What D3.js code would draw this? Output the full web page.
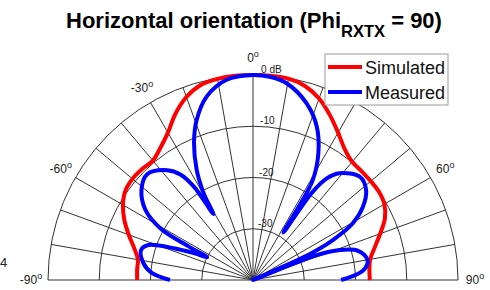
<!DOCTYPE html>
<html><head><meta charset="utf-8">
<script src="https://cdn.jsdelivr.net/npm/d3@7/dist/d3.min.js"></script>
<style>body{margin:0;background:#fff} svg{display:block}</style>
</head><body>
<svg id="chart" width="490" height="290"></svg>
<script>
// ---- data ----
const simAngles = [-90,-85,-80,-75,-70,-65,-60,-55,-50,-45,-40,-35,-30,-25,-20,-15,-10,-5,0,5,10,15,20,25,30,35,40,45,50,55,60,65,70,75,80,85,90];
const simDb = [-17.4,-17.3,-17.2,-16.0,-14.2,-12.3,-10.7,-9.6,-9.3,-9.4,-9.6,-8.5,-6.8,-4.2,-2.0,-0.6,-0.15,0,0,0,-0.1,-0.8,-2.3,-4.5,-6.8,-8.8,-9.9,-10.0,-10.0,-10.0,-10.4,-11.6,-13.6,-15.4,-16.8,-17.2,-17.2];
const measAngles = [-90,-86,-81,-75,-71.5,-68,-65.5,-63.5,-62.5,-61,-57,-51,-45,-38,-34.5,-32.3,-31,-29.6,-27.1,-23.3,-19.4,-14.2,-7.5,0,5,9.7,16.9,22.6,27.3,31,32.6,34,36,39,46,51.5,56.3,60.4,63.4,65.5,67,68.5,71,74.5,80,85,90];
const measDb = [-23.8,-20.2,-18.3,-17.4,-18.5,-23.6,-27.5,-30,-26,-19.5,-15,-12,-10.8,-12.8,-15,-18.5,-25,-20.5,-15.9,-10.9,-6.9,-3.1,-0.6,0,-0.25,-1.05,-4,-7.6,-12.2,-17.5,-29,-19.5,-15.5,-13.2,-11,-11.8,-14.2,-17.6,-22.5,-28,-42,-27,-22,-18.7,-17.3,-18.4,-22.8];
const ringDb = [0,-10,-20,-30];
const ringLabels = ["0 dB","-10","-20","-30"];
const spokeAngles = [-90,-80,-70,-60,-50,-40,-30,-20,-10,0,10,20,30,40,50,60,70,80,90];
// the 30° label sits under the legend in the reference, so it is not shown
const angleTicks = [-90,-60,-30,0,60,90];
const angleTickLabels = ["-90","-60","-30","0","60","90"];
const seriesNames = ["Simulated","Measured"];
const titleMain = "Horizontal orientation (Phi";
const titleSub = "RXTX";
const titleEnd = " = 90)";

// ---- layout ----
const svg = d3.select("#chart");
const cx = 253, cy = 280, R = 205;
const colors = ["#ff0000","#0000ff"];
const rScale = d3.scaleLinear().domain([-40,0]).range([0,R]).clamp(true);
const aScale = d3.scaleLinear().domain([-90,90]).range([-Math.PI/2, Math.PI/2]);

const g = svg.append("g").attr("transform", `translate(${cx},${cy})`);
const gridColor = "#333";

// rings
g.selectAll("path.ring").data(ringDb).join("path")
  .attr("class","ring")
  .attr("d", d => { const r = rScale(d); return `M${-r},0A${r},${r} 0 0 1 ${r},0`; })
  .attr("fill","none").attr("stroke",gridColor).attr("stroke-width",1);
// spokes
g.selectAll("line.spoke").data(spokeAngles).join("line")
  .attr("class","spoke")
  .attr("x1",0).attr("y1",0)
  .attr("x2", d => R*Math.sin(aScale(d)))
  .attr("y2", d => -R*Math.cos(aScale(d)))
  .attr("stroke",gridColor).attr("stroke-width",1);

// ring labels
g.selectAll("text.rl").data(ringDb).join("text")
  .attr("class","rl")
  .attr("x", d => 4 + rScale(d)*0.02)
  .attr("y", d => -rScale(d) - 2)
  .attr("font-family","Liberation Sans, Arial, sans-serif")
  .attr("font-size",10).attr("fill","#222")
  .text((d,i) => ringLabels[i]);

// angle labels
const lr = 222;
const at = g.selectAll("text.al").data(angleTicks).join("text")
  .attr("class","al")
  .attr("x", d => lr*Math.sin(aScale(d)))
  .attr("y", d => -lr*Math.cos(aScale(d)) + 4)
  .attr("text-anchor","middle")
  .attr("font-family","Liberation Sans, Arial, sans-serif")
  .attr("font-size",12).attr("fill","#222");
at.append("tspan").text((d,i) => angleTickLabels[i]);
at.append("tspan").attr("dy",-5).attr("font-size",9).text("o");

// series
const line = d3.lineRadial()
  .angle(d => aScale(d[0]))
  .radius(d => rScale(d[1]))
  .curve(d3.curveCatmullRom.alpha(0.5));
const simData = simAngles.map((a,i) => [a, simDb[i]]);
const measData = measAngles.map((a,i) => [a, measDb[i]]);
g.append("path").datum(simData).attr("d", line)
  .attr("fill","none").attr("stroke",colors[0]).attr("stroke-width",4).attr("stroke-linejoin","round");
g.append("path").datum(measData).attr("d", line)
  .attr("fill","none").attr("stroke",colors[1]).attr("stroke-width",4).attr("stroke-linejoin","round");

// legend
const lg = svg.append("g").attr("transform","translate(325,54)");
lg.append("rect").attr("x",0).attr("y",0).attr("width",123).attr("height",51)
  .attr("fill","#fff").attr("stroke","#999").attr("stroke-width",1);
seriesNames.forEach((n,i) => {
  const y = 13 + i*25;
  lg.append("line").attr("x1",3).attr("x2",37).attr("y1",y).attr("y2",y)
    .attr("stroke",colors[i]).attr("stroke-width",4);
  lg.append("text").attr("x",40).attr("y",y+7)
    .attr("font-family","Liberation Sans, Arial, sans-serif")
    .attr("font-size",18).attr("fill","#111").text(n);
});

// title
const t = svg.append("text").attr("x",254).attr("y",28).attr("text-anchor","middle")
  .attr("font-family","Liberation Sans, Arial, sans-serif")
  .attr("font-weight","bold").attr("font-size",22).attr("fill","#000");
t.append("tspan").text(titleMain);
t.append("tspan").attr("dy",9).attr("font-size",16.5).text(titleSub);
t.append("tspan").attr("dy",-9).text(titleEnd);

// stray label at left edge
svg.append("text").attr("x",0).attr("y",267)
  .attr("font-family","Liberation Sans, Arial, sans-serif")
  .attr("font-size",13).attr("fill","#222").text("4");
</script>
</body></html>
